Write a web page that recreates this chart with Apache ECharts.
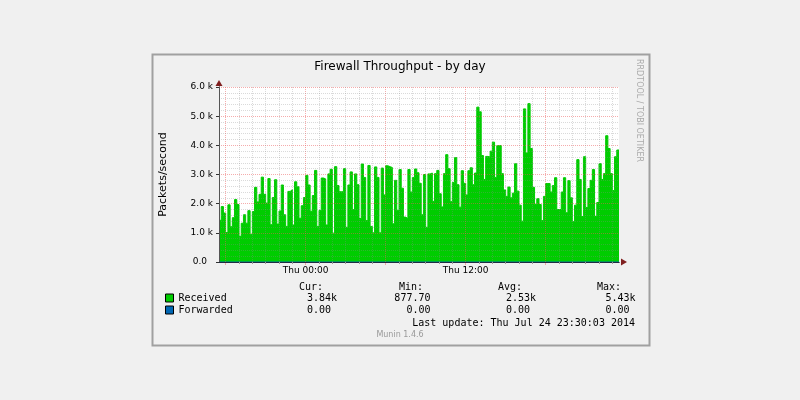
<!DOCTYPE html>
<html>
<head>
<meta charset="utf-8">
<title>Firewall Throughput - by day</title>
<script src="https://cdn.jsdelivr.net/npm/echarts@6/dist/echarts.min.js"></script>
<style>body{margin:0;background:#f0f0f0}</style>
</head>
<body>
<div id="main" style="width:800px;height:400px;"></div>
<script type="text/javascript">
// packets/second, one value per 10 minutes, Wed 17:30 .. Thu 23:30
var received = [
	1430, 1900, 1680, 1010, 1960, 1210, 1520, 2140, 1970, 880,
	1330, 1620, 1330, 1760, 940, 1730, 2560, 2060, 2320, 2910,
	2320, 2020, 2860, 1280, 2210, 2820, 1300, 1750, 2640, 1620,
	1220, 2420, 2480, 1270, 2750, 2580, 1500, 1930, 2210, 2970,
	2640, 1740, 2280, 3140, 1220,
	1770, 2880, 2850, 1270, 3020, 3180, 990, 3270, 2620, 2410,
	2410, 3200, 1190, 2640, 3090, 1800, 3020, 2650, 1490, 3360,
	2900, 1420, 3310, 1220, 1000, 3260, 2900, 1000, 3220, 2300,
	3300, 3270, 3240, 1310, 2800, 1770, 3170, 2530, 1540, 1490,
	3170, 2400, 2900, 3190, 3060,
	2700, 1620, 3000, 1190, 3020, 3050, 2080, 3030, 3140, 2340,
	1890, 3030, 3680, 3200, 2070, 2730, 3580, 2650, 1880, 3130,
	2700, 2300, 3130, 3230, 2650, 3050, 5310, 5150, 3650, 2830,
	3620, 3600, 3800, 4110, 2900, 3990, 3990, 3030, 2470, 2250,
	2570, 2200, 2360, 3370, 2430,
	1950, 1400, 5250, 3740, 5430, 3890, 2560, 1970, 2170, 1970,
	1420, 2250, 2690, 2690, 2400, 2620, 2890, 1800, 1800, 2400,
	2890, 1690, 2790, 2200, 1390, 1950, 3510, 2830, 1560, 3610,
	1870, 2520, 2800, 3170, 1560, 2040, 3370, 2830, 3030, 4330,
	3890, 3030, 2450, 3610, 3840, 3840
];
var forwarded = [
	0,0,0,0,0,0,0,0,0,0,0,0,0,0,0,0,0,0,0,0,0,0,0,0,0,0,0,0,0,0,
	0,0,0,0,0,0,0,0,0,0,0,0,0,0,0,0,0,0,0,0,0,0,0,0,0,0,0,0,0,0,
	0,0,0,0,0,0,0,0,0,0,0,0,0,0,0,0,0,0,0,0,0,0,0,0,0,0,0,0,0,0,
	0,0,0,0,0,0,0,0,0,0,0,0,0,0,0,0,0,0,0,0,0,0,0,0,0,0,0,0,0,0,
	0,0,0,0,0,0,0,0,0,0,0,0,0,0,0,0,0,0,0,0,0,0,0,0,0,0,0,0,0,0,
	0,0,0,0,0,0,0,0,0,0,0,0,0,0,0,0,0,0,0,0,0,0,0,0,0,0,0,0,0,0,
	0
];

var days = ['Wed', 'Thu'];
var startMinute = 17 * 60 + 30; // Wed 17:30
var stepMinutes = 10;
var times = [];
for (var i = 0; i < received.length; i++) {
	var m = startMinute + i * stepMinutes;
	var d = days[Math.floor(m / 1440)];
	var hh = Math.floor((m % 1440) / 60), mm = m % 60;
	times.push(d + ' ' + (hh < 10 ? '0' : '') + hh + ':' + (mm < 10 ? '0' : '') + mm);
}

var statHeads = ['Cur:', 'Min:', 'Avg:', 'Max:'];
var statReceived = ['3.84k', '877.70 ', '2.53k', '5.43k'];
var statForwarded = ['0.00 ', '0.00 ', '0.00 ', '0.00 '];
var lastUpdate = 'Last update: Thu Jul 24 23:30:03 2014';

function hourOf(v) { return +v.substr(4, 2); }
function onHour(v) { return v.substr(7, 2) === '00'; }
function isMajor(idx, v) { return onHour(v) && hourOf(v) % 6 === 0; }
function isMinor(idx, v) { return onHour(v) && hourOf(v) % 6 !== 0; }
function isLabel(idx, v) { return onHour(v) && hourOf(v) % 12 === 0; }

var majorCol = 'rgba(235,90,90,0.5)';
var minorCol = 'rgba(140,140,140,0.32)';
var sans = 'DejaVu Sans';
var mono = 'DejaVu Sans Mono';

var myChart = echarts.init(document.getElementById('main'));

var stats = { Received: statReceived, Forwarded: statForwarded };

var option = {
	animation: false,
	backgroundColor: '#f0f0f0',
	title: {
		text: 'Firewall Throughput - by day',
		left: 'center',
		top: 61,
		padding: 0,
		textStyle: { fontFamily: sans, fontSize: 12, fontWeight: 'normal', color: '#000' }
	},
	grid: {
		left: 219, right: 181, top: 87, bottom: 138,
		show: true, backgroundColor: '#fff', borderWidth: 0
	},
	legend: {
		orient: 'vertical',
		left: 165,
		top: 292,
		padding: 0,
		itemGap: 0,
		itemWidth: 8,
		itemHeight: 8,
		icon: 'rect',
		selectedMode: false,
		itemStyle: { borderColor: '#000', borderWidth: 1 },
		data: ['Received', 'Forwarded'],
		formatter: function (name) {
			var s = stats[name];
			return '{n|' + name + '}{v|' + s[0] + '}{v|' + s[1] + '}{v|' + s[2] + '}{v|' + s[3] + '}';
		},
		textStyle: {
			fontFamily: mono, fontSize: 10, color: '#000', lineHeight: 12,
			rich: {
				n: { fontFamily: mono, fontSize: 10, width: 59 },
				v: { fontFamily: mono, fontSize: 10, width: 99.5, align: 'right' }
			}
		}
	},
	xAxis: [{
		type: 'category',
		data: times,
		boundaryGap: false,
		position: 'bottom',
		z: 5,
		axisLine: {
			symbol: ['none', 'triangle'],
			symbolSize: [7, 6],
			symbolOffset: [0, 5],
			lineStyle: { color: '#801f1f' }
		},
		axisTick: { show: true, interval: isMajor, length: 3, lineStyle: { color: majorCol } },
		axisLabel: { show: false },
		splitLine: { show: true, interval: isMajor, lineStyle: { color: majorCol, type: [1, 1] } }
	}, {
		type: 'category',
		data: times,
		boundaryGap: false,
		position: 'bottom',
		z: 6,
		axisLine: { lineStyle: { color: '#1f2a44' } },
		axisTick: { show: true, interval: isMinor, length: 2, lineStyle: { color: '#999' } },
		axisLabel: {
			interval: isLabel,
			margin: 4,
			fontFamily: sans, fontSize: 9, color: '#000'
		},
		splitLine: { show: true, interval: isMinor, lineStyle: { color: minorCol, type: [1, 1] } }
	}],
	yAxis: [{
		type: 'value',
		min: 0, max: 6000, interval: 1000,
		position: 'left',
		z: 5,
		axisLine: {
			show: true,
			symbol: ['none', 'triangle'],
			symbolSize: [7, 6],
			symbolOffset: [0, 4],
			lineStyle: { color: '#801f1f' }
		},
		axisTick: { show: false },
		axisLabel: { show: false },
		splitLine: { show: true, lineStyle: { color: majorCol, type: [1, 1] } }
	}, {
		type: 'value',
		min: 0, max: 6000, interval: 1000,
		position: 'left',
		z: 6,
		name: 'Packets/second',
		nameLocation: 'middle',
		nameGap: 50,
		nameTextStyle: { fontFamily: sans, fontSize: 11, color: '#000' },
		axisLine: { show: true, lineStyle: { color: '#555' } },
		axisTick: { show: true, length: 3, lineStyle: { color: '#333' } },
		axisLabel: {
			margin: 6,
			fontFamily: sans, fontSize: 9, color: '#000',
			formatter: function (v) {
				return v === 0 ? '{z|0.0}' : (v / 1000).toFixed(1) + ' k';
			},
			rich: { z: { fontFamily: sans, fontSize: 9, color: '#000', padding: [0, 6, 0, 0] } }
		},
		splitLine: { show: false },
		minorTick: { show: false, splitNumber: 5 },
		minorSplitLine: { show: true, lineStyle: { color: minorCol, type: [1, 1] } }
	}],
	series: [{
		name: 'Received',
		type: 'line',
		xAxisIndex: 1,
		yAxisIndex: 1,
		step: 'end',
		symbol: 'none',
		data: received,
		itemStyle: { color: '#00cc00' },
		lineStyle: { color: '#00cc00', width: 1 },
		areaStyle: { color: '#00cc00', opacity: 1 }
	}, {
		name: 'Forwarded',
		type: 'line',
		xAxisIndex: 1,
		yAxisIndex: 1,
		step: 'end',
		symbol: 'none',
		data: forwarded,
		itemStyle: { color: '#0066b3' },
		lineStyle: { color: '#0066b3', width: 1 }
	}],
	graphic: [
		{ type: 'rect', shape: { x: 152.5, y: 54.5, width: 497, height: 291 },
			style: { fill: 'none', stroke: '#a0a0a0', lineWidth: 2 }, silent: true },
		{ type: 'text', x: 639, y: 59, rotation: -Math.PI / 2,
			style: { text: 'RRDTOOL / TOBI OETIKER', fontFamily: sans, fontSize: 8, fill: '#aaa',
				textAlign: 'left', textVerticalAlign: 'middle' } },
		{ type: 'text', x: 323, y: 287, style: { text: statHeads[0], fontFamily: mono, fontSize: 10, fill: '#000', textAlign: 'right', textVerticalAlign: 'middle' } },
		{ type: 'text', x: 423, y: 287, style: { text: statHeads[1], fontFamily: mono, fontSize: 10, fill: '#000', textAlign: 'right', textVerticalAlign: 'middle' } },
		{ type: 'text', x: 522, y: 287, style: { text: statHeads[2], fontFamily: mono, fontSize: 10, fill: '#000', textAlign: 'right', textVerticalAlign: 'middle' } },
		{ type: 'text', x: 621, y: 287, style: { text: statHeads[3], fontFamily: mono, fontSize: 10, fill: '#000', textAlign: 'right', textVerticalAlign: 'middle' } },
		{ type: 'text', x: 635, y: 323, style: { text: lastUpdate, fontFamily: mono, fontSize: 10, fill: '#000', textAlign: 'right', textVerticalAlign: 'middle' } },
		{ type: 'text', x: 400, y: 335, style: { text: 'Munin 1.4.6', fontFamily: sans, fontSize: 8, fill: '#999', textAlign: 'center', textVerticalAlign: 'middle' } }
	]
};

myChart.setOption(option);
</script>
</body>
</html>
